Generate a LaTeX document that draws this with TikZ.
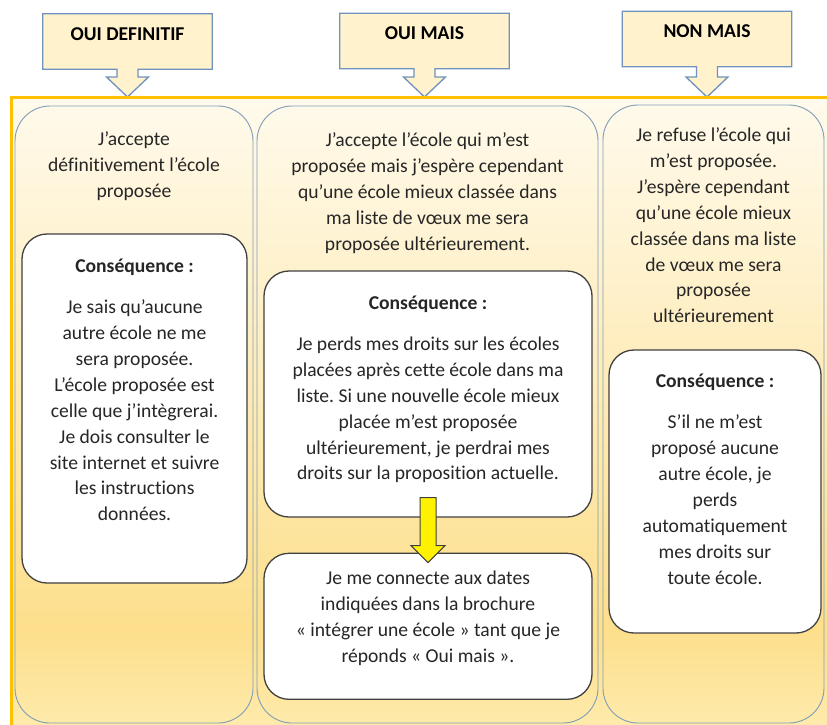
\documentclass[tikz,border=0pt]{standalone}
\usepackage{fontspec}
\setmainfont{Carlito}[Ligatures={TeX,NoCommon}]
\usetikzlibrary{positioning,calc,backgrounds}
\frenchspacing

\definecolor{framegold}{HTML}{FFC000}
\definecolor{fillTop}{HTML}{FFFAEC}
\definecolor{fillMid}{HTML}{FDDF8C}
\definecolor{fillLow}{HTML}{FEECB0}
\definecolor{labelfill}{HTML}{FFF2CC}
\definecolor{labelblue}{HTML}{7092BC}
\definecolor{colblue}{HTML}{7F9DBA}
\definecolor{boxgrey}{HTML}{404040}

\begin{document}
\begin{tikzpicture}
[x=1pt, y=-1pt, font=\fontsize{19.6}{25.9}\selectfont,
% STYLES
% The callout style is used to draw the three answers on top
callout/.style={draw=labelblue, line width=1.3pt, fill=labelfill},
answer/.style={rectangle, inner sep=0pt, minimum width=169pt, minimum height=55pt, text height=13pt, text depth=16pt, font=\fontsize{19.6}{25.9}\selectfont\bfseries},
% The column style is used for the three big rounded boxes
column/.style={rectangle, draw=colblue, line width=0.9pt, rounded corners=35pt},
% The conseq style is used for the white boxes inside the columns
conseq/.style={rectangle, draw=boxgrey, line width=1.3pt, fill=white, rounded corners=25pt},
% The txt style is used for every block of text
txt/.style={inner sep=0pt, align=center, text=black!85, execute at begin node=\strut},
flash/.style={draw=boxgrey, line width=1pt, fill=yellow}]

\useasboundingbox (0,0) rectangle (827,724);
\clip (0,0) rectangle (827,724);

% Frame
\shade[top color=fillTop, bottom color=fillMid] (11.5,97.5) rectangle (840,630);
\shade[top color=fillMid, bottom color=fillLow] (11.5,630) rectangle (840,740);
\draw[framegold, line width=3.5pt] (11.5,97.5) rectangle (840,740);

% Answers
\node [answer] (l1) at (127.5,41.5) {OUI DEFINITIF};
\node [answer] (l2) at (424.5,41) {OUI MAIS};
\node [answer] (l3) at (707,39) {NON MAIS};

\coordinate (headline) at (0,77);
\coordinate (tipline) at (0,97);

\begin{scope}[on background layer]
\foreach \l in {l1,l2,l3}
  \draw[callout] (\l.south east) -- ($(\l.south)+(10.5,0)$)
    -- ($(\l.south |- headline)+(10.5,0)$) -- ($(\l.south |- headline)+(21,0)$)
    -- (\l.south |- tipline)
    -- ($(\l.south |- headline)+(-21,0)$) -- ($(\l.south |- headline)+(-10.5,0)$)
    -- ($(\l.south)+(-10.5,0)$) -- (\l.south west) -- (\l.north west)
    -- (\l.north east) -- cycle;
\end{scope}

% Columns
\node [column, minimum width=238pt, minimum height=617pt] (c1) at (134,414.5) {};
\node [column, minimum width=341pt, minimum height=617pt] (c2) at (427.5,414.5) {};
\node [column, minimum width=221pt, minimum height=618pt] (c3) at (713.5,414) {};

% Consequences
\node [conseq, minimum width=225pt, minimum height=349pt] (b1) at (134.5,408.5) {};
\node [conseq, minimum width=328pt, minimum height=246pt] (b2) at (428,394) {};
\node [conseq, minimum width=328pt, minimum height=146pt, below=35pt of b2] (b3) {};
\node [conseq, minimum width=212pt, minimum height=283pt] (b4) at (715,491.5) {};

%%%%%%%%%%%%%%%
% Texts

% Oui definitif
\node [txt, below=26pt of c1.north] (t1)
{J’accepte\\définitivement l’école\\proposée};
\node [txt, below=21pt of b1.north] (h1) {\textbf{Conséquence :}};
\node [txt, below=19pt of h1] (p1)
{Je sais qu’aucune\\autre école ne me\\sera proposée.\\L’école proposée est\\celle que j’intègrerai.\\Je dois consulter le\\site internet et suivre\\les instructions\\données.};

% Oui mais
\node [txt, below=27pt of c2.north] (t2)
{J’accepte l’école qui m’est\\proposée mais j’espère cependant\\qu’une école mieux classée dans\\ma liste de vœux me sera\\proposée ultérieurement.};
\node [txt, below=21pt of b2.north] (h2) {\textbf{Conséquence :}};
\node [txt, below=19pt of h2] (p2)
{Je perds mes droits sur les écoles\\placées après cette école dans ma\\liste. Si une nouvelle école mieux\\placée m’est proposée\\ultérieurement, je perdrai mes\\droits sur la proposition actuelle.};
\node [txt, below=18pt of b3.north] (p3)
{Je me connecte aux dates\\indiquées dans la brochure\\« intégrer une école » tant que je\\réponds « Oui mais ».};

% Non mais
\node [txt, below=23pt of c3.north] (t3)
{Je refuse l’école qui\\m’est proposée.\\J’espère cependant\\qu’une école mieux\\classée dans ma liste\\de vœux me sera\\proposée\\ultérieurement};
\node [txt, below=20pt of b4.north] (h4) {\textbf{Conséquence :}};
\node [txt, below=19pt of h4] (p4)
{S’il ne m’est\\proposé aucune\\autre école, je\\perds\\automatiquement\\mes droits sur\\toute école.};

%%%%%%%%%%%%%%%

% Draw the link between the two boxes
\draw[flash] ($(b2.south)+(-8,-20)$) -- ($(b2.south)+(8,-20)$)
  -- ($(b2.south)+(8,28)$) -- ($(b2.south)+(17,28)$)
  -- ($(b3.north)+(0,10)$)
  -- ($(b2.south)+(-17,28)$) -- ($(b2.south)+(-8,28)$) -- cycle;

\end{tikzpicture}
\end{document}
